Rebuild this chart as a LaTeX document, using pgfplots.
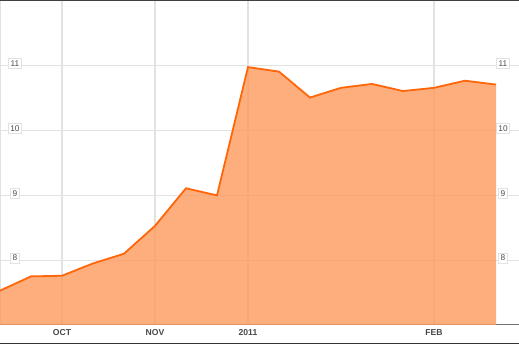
\documentclass[border=0pt]{standalone}
\usepackage{pgfplots}
\pgfplotsset{compat=1.18}
\usepackage{fontspec}
\setmainfont{Liberation Sans}
\definecolor{fillor}{RGB}{252,154,91}
\definecolor{lineor}{RGB}{255,102,10}
\definecolor{gridc}{RGB}{226,226,226}
\pgfplotstableread{
x y
0 7.53
1 7.75
2 7.76
3 7.95
4 8.10
5 8.53
6 9.11
7 9.00
8 10.98
9 10.91
10 10.51
11 10.66
12 10.72
13 10.61
14 10.66
15 10.77
16 10.71
}\datatable
\begin{document}
\begin{tikzpicture}
\begin{axis}[scale only axis,
  width=519pt, height=324pt,
  xmin=0, xmax=16.742, ymin=7, ymax=12,
  axis x line*=bottom, axis y line*=left,
  x axis line style={draw=black!55, line width=1pt},
  y axis line style={draw=none},
  xtick={0,2,5,8,14}, xticklabels={,OCT,NOV,2011,FEB},
  ytick={8,9,10,11},
  major tick length=0pt, tick style={draw=none},
  grid=major, grid style={gridc, line width=1.3pt},
  xticklabel style={font=\fontsize{8.6}{9}\selectfont\bfseries, text=black!72, yshift=-1pt},
  yticklabel style={font=\fontsize{8.3}{9}\selectfont, text=black!70, draw=gridc, fill=white,
    inner sep=2pt, anchor=center, xshift=15pt, yshift=2.2pt, line width=0.8pt},
  /pgf/number format/assume math mode=true,
]
\addplot[draw=none, fill=fillor, fill opacity=0.8] table[x=x,y=y] {\datatable} \closedcycle;
\addplot[lineor, line width=1.8pt, mark=none] table[x=x,y=y] {\datatable};
\end{axis}
\begin{axis}[scale only axis,
  width=519pt, height=324pt,
  xmin=0, xmax=16.742, ymin=7, ymax=12,
  axis line style={draw=none}, xtick=\empty,
  ytick={8,9,10,11}, yticklabel pos=right,
  major tick length=0pt, tick style={draw=none},
  yticklabel style={font=\fontsize{8.3}{9}\selectfont, text=black!70, draw=gridc, fill=white,
    inner sep=2pt, anchor=center, xshift=-16pt, yshift=2.2pt, line width=0.8pt},
  /pgf/number format/assume math mode=true,
]
\end{axis}
\draw[black!75, line width=1.4pt] ([yshift=0.3pt]current axis.north west) -- ([yshift=0.3pt]current axis.north east);
\draw[black!80, line width=1pt] ([yshift=-18.5pt]current axis.south west) -- ([yshift=-18.5pt]current axis.south east);
\pgfresetboundingbox
\path ([yshift=-19pt]current axis.south west) rectangle ([yshift=1pt]current axis.north east);
\end{tikzpicture}
\end{document}
